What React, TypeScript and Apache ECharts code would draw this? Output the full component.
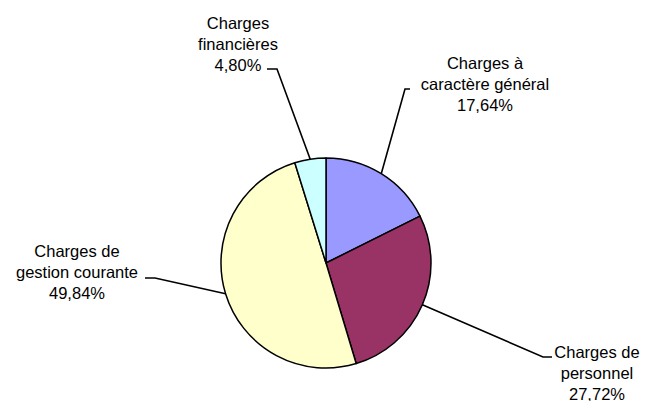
import React, { useEffect, useRef } from "react";
import * as echarts from "echarts";

const categories = [
  "Charges à\ncaractère général",
  "Charges de\npersonnel",
  "Charges de\ngestion courante",
  "Charges\nfinancières",
];
const values = [17.64, 27.72, 49.84, 4.8];
const colors = ["#9999FF", "#993366", "#FFFFCC", "#CCFFFF"];

// label layout (centre of label block, elbow of leader, end of leader)
const labelCenters = [
  [485, 84],
  [597, 373],
  [77, 272],
  [238, 44],
];
const leaderElbows = [
  [405, 89],
  [543, 357],
  [155, 278],
  [277, 69],
];
const leaderEnds = [
  [410, 89],
  [552, 357],
  [145, 278],
  [267, 69],
];

const fmtPct = (v: number) => v.toFixed(2).replace(".", ",") + "%";

export default function App() {
  const ref = useRef<HTMLDivElement>(null);
  useEffect(() => {
    document.body.style.margin = "0";
    const chart = echarts.init(ref.current!, null, { renderer: "svg" });
    chart.setOption({
      animation: false,
      backgroundColor: "#ffffff",
      series: [
        {
          type: "pie",
          center: [326, 263],
          radius: 105,
          startAngle: 90,
          clockwise: true,
          avoidLabelOverlap: false,
          data: categories.map((c, i) => ({
            name: c,
            value: values[i],
            itemStyle: { color: colors[i] },
          })),
          itemStyle: { borderColor: "#000000", borderWidth: 1.5 },
          label: {
            show: true,
            position: "outside",
            formatter: (p: any) => p.name + "\n" + fmtPct(p.value),
            color: "#000000",
            fontFamily: "Liberation Sans, Arial, sans-serif",
            fontSize: 16.5,
            lineHeight: 21,
            align: "center",
          },
          labelLine: {
            show: true,
            length: 20,
            length2: 10,
            lineStyle: { color: "#000000", width: 1.6 },
          },
          emphasis: { disabled: true },
          labelLayout: (params: any) => {
            const i = params.dataIndex;
            const pts = params.labelLinePoints;
            const start = pts && pts[0] ? pts[0] : leaderElbows[i];
            return {
              x: labelCenters[i][0],
              y: labelCenters[i][1],
              align: "center",
              verticalAlign: "middle",
              labelLinePoints: [start, leaderElbows[i], leaderEnds[i]],
            };
          },
        },
      ],
    });
    return () => chart.dispose();
  }, []);
  return <div ref={ref} style={{ width: 647, height: 401 }} />;
}
